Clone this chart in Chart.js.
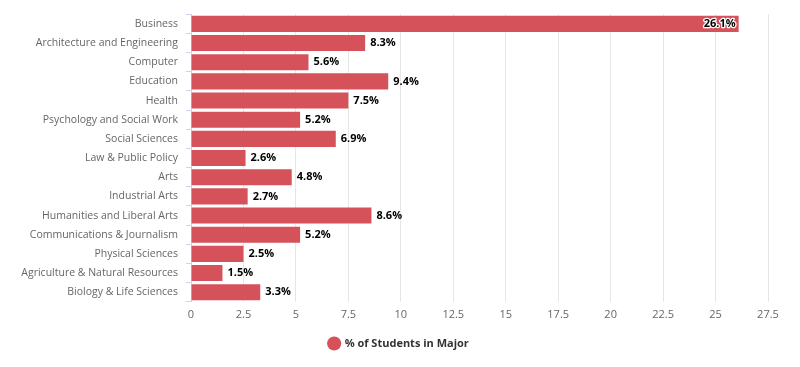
<!DOCTYPE html>
<html>
<head>
<meta charset="utf-8">
<script src="https://cdn.jsdelivr.net/npm/chart.js@4/dist/chart.umd.min.js"></script>
<style>
html,body{margin:0;padding:0;background:#fff;}
#wrap{width:800px;height:367px;position:relative;}
</style>
</head>
<body>
<div id="wrap"><canvas id="c" width="800" height="367"></canvas></div>
<script>
const categories = ["Business","Architecture and Engineering","Computer","Education","Health","Psychology and Social Work","Social Sciences","Law & Public Policy","Arts","Industrial Arts","Humanities and Liberal Arts","Communications & Journalism","Physical Sciences","Agriculture & Natural Resources","Biology & Life Sciences"];
const percentStudents = [26.1, 8.3, 5.6, 9.4, 7.5, 5.2, 6.9, 2.6, 4.8, 2.7, 8.6, 5.2, 2.5, 1.5, 3.3];
const seriesName = "% of Students in Major";
const xMax = 27.5;
const xStep = 2.5;

const FONT = "'Open Sans', 'DejaVu Sans', sans-serif";
const BAR = "#d5525b";

const labelPlugin = {
  id: 'barLabels',
  afterLayout(chart) {
    if (chart.legend) { chart.legend.left += 15; chart.legend.right += 15; }
  },
  afterDatasetsDraw(chart) {
    const ctx = chart.ctx;
    const meta = chart.getDatasetMeta(0);
    const area = chart.chartArea;
    ctx.save();
    ctx.font = "bold 11px " + FONT;
    ctx.textBaseline = 'middle';
    meta.data.forEach((bar, i) => {
      const txt = percentStudents[i].toFixed(1) + '%';
      const w = ctx.measureText(txt).width;
      let x = bar.x + 5;
      let inside = false;
      if (x + w > area.right - 20) { x = bar.x - 3 - w; inside = true; }
      if (inside) {
        ctx.lineWidth = 2.5;
        ctx.strokeStyle = '#ffffff';
        ctx.lineJoin = 'round';
        ctx.strokeText(txt, x, bar.y);
      }
      ctx.fillStyle = '#000000';
      ctx.fillText(txt, x, bar.y);
    });
    ctx.restore();
  }
};

new Chart(document.getElementById('c'), {
  type: 'bar',
  data: {
    labels: categories,
    datasets: [{
      label: seriesName,
      data: percentStudents,
      backgroundColor: BAR,
      borderWidth: 0,
      barPercentage: 0.84,
      categoryPercentage: 1.0
    }]
  },
  options: {
    indexAxis: 'y',
    responsive: false,
    animation: false,
    devicePixelRatio: 1,
    layout: { padding: { top: 13, right: 32, left: 0, bottom: 8 } },
    scales: {
      x: {
        min: 0, max: xMax,
        ticks: { stepSize: xStep, color: '#666666', font: { family: FONT, size: 11 }, padding: 6 },
        grid: { color: '#e6e6e6', drawTicks: false },
        border: { display: false }
      },
      y: {
        offset: true,
        ticks: { color: '#666666', font: { family: FONT, size: 10.5 }, padding: 8 },
        grid: { offset: true, drawOnChartArea: false, color: '#ccd6eb', tickLength: 5 },
        border: { display: true, color: '#ccd6eb' },
        afterFit(s) { s.width = 191; }
      }
    },
    plugins: {
      legend: {
        position: 'bottom',
        labels: {
          usePointStyle: true, pointStyle: 'circle', boxWidth: 10, boxHeight: 10,
          color: '#333333', font: { family: FONT, size: 11, weight: 'bold' }, padding: 11
        }
      },
      tooltip: { enabled: false }
    }
  },
  plugins: [labelPlugin]
});
</script>
</body>
</html>
